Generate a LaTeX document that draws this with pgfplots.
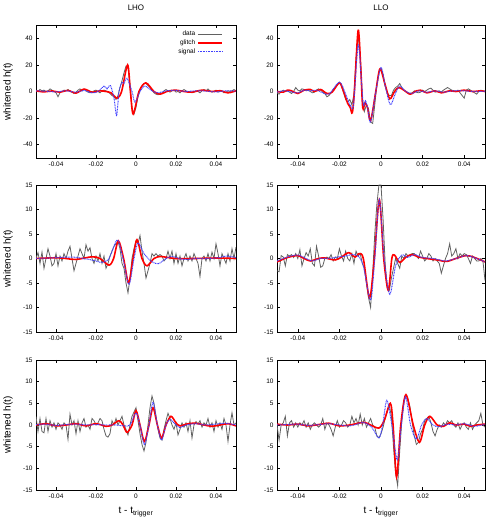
\documentclass[border=0pt]{standalone}
\usepackage{fontspec}
\setmainfont{Liberation Sans}
\usepackage{pgfplots}
\pgfplotsset{compat=1.18}

\definecolor{datagray}{rgb}{0.38,0.38,0.38}
\definecolor{glitchred}{rgb}{1,0,0}
\definecolor{sigblue}{rgb}{0.25,0.25,1}

\pgfplotsset{
  panel/.style={
    scale only axis,
    xmin=-0.05, xmax=0.05,
    xtick={-0.04,-0.02,0,0.02,0.04},
    xticklabels={-0.04,-0.02,0,0.02,0.04},
    scaled x ticks=false,
    tick align=inside,
    major tick length=3bp,
    axis line style={line width=0.8pt},
    every tick/.style={black,line width=0.6pt},
    tick label style={font=\fontsize{6.5}{7}\selectfont},
    label style={font=\fontsize{7}{8}\selectfont},
    title style={font=\fontsize{8}{9}\selectfont,at={(0.5,1)},anchor=south,yshift=5bp},
    every axis y label/.style={at={(axis description cs:-0.14,0.5)},rotate=90,anchor=center},
    every axis x label/.style={at={(axis description cs:0.5,-0.17)},anchor=center},
  },
  bigy/.style={ymin=-50,ymax=50,ytick={-40,-20,0,20,40},yticklabels={-40,-20,0,20,40}},
  smally/.style={ymin=-15,ymax=15,ytick={-15,-10,-5,0,5,10,15},yticklabels={-15,-10,-5,0,5,10,15}},
  datal/.style={color=datagray,line width=0.8pt,no markers},
  glitchl/.style={color=glitchred,line width=1.6pt,smooth,no markers},
  sigl/.style={color=sigblue,line width=1pt,dash pattern=on 0.9pt off 0.7pt,smooth,no markers},
}

\begin{document}
\begin{tikzpicture}
\useasboundingbox (0,0) rectangle (500bp,525bp);

% ---------------- row 1, LHO
\begin{axis}[panel,bigy,at={(36bp,500bp)},anchor=north west,width=200bp,height=133bp,
  title={LHO},ylabel={whitened h(t)},
  legend style={draw=none,fill=none,at={(0.95,0.985)},anchor=north east,
    font=\fontsize{6.5}{7}\selectfont,row sep=-1.5bp},
  legend cell align=right,legend plot pos=right,
  legend image code/.code={\draw[#1] (0bp,0bp) -- (24bp,0bp);}]
\addplot[datal] coordinates {
(-0.050,1) (-0.049,0) (-0.048,1.5) (-0.047,0.5) (-0.046,1) (-0.045,0) (-0.044,0.5) (-0.043,2) (-0.042,1) (-0.041,0)
(-0.040,-1) (-0.039,-4) (-0.038,-1) (-0.037,0) (-0.036,1) (-0.035,0.5) (-0.034,1.5) (-0.033,0) (-0.032,-0.5) (-0.031,-1.5)
(-0.030,-0.5) (-0.029,1) (-0.028,2) (-0.027,0.5) (-0.026,2) (-0.025,0.5) (-0.024,-0.5) (-0.023,-1) (-0.022,-0.5) (-0.021,0.5)
(-0.020,1) (-0.019,0) (-0.018,-1) (-0.017,0.5) (-0.016,1) (-0.015,0.5) (-0.014,-0.5) (-0.013,-1.5) (-0.012,-3) (-0.011,-4)
(-0.010,-6) (-0.009,-3) (-0.008,3) (-0.007,8) (-0.006,14) (-0.005,19) (-0.004,18) (-0.003,5) (-0.002,-12) (-0.001,-17)
(0.000,-12) (0.001,-4) (0.002,1) (0.003,4) (0.004,6) (0.005,6) (0.006,4.5) (0.007,3) (0.008,1) (0.009,-1)
(0.010,-2) (0.011,-2.5) (0.012,-2) (0.013,-1) (0.014,0.5) (0.015,1.5) (0.016,0.5) (0.017,-0.5) (0.018,0.5) (0.019,1)
(0.020,-0.5) (0.021,0) (0.022,-1) (0.023,0.5) (0.024,1.5) (0.025,0.5) (0.026,-0.5) (0.027,0) (0.028,-1) (0.029,-0.5)
(0.030,0.5) (0.031,0) (0.032,-1) (0.033,0.5) (0.034,1.5) (0.035,0.5) (0.036,2) (0.037,0.5) (0.038,-0.5) (0.039,0)
(0.040,1) (0.041,-0.5) (0.042,0) (0.043,0.5) (0.044,-1) (0.045,-0.5) (0.046,0.5) (0.047,0) (0.048,0.5) (0.049,1.5) (0.050,0.5)};
\addlegendentry{data}
\addplot[glitchl] coordinates {
(-0.05,0.5) (-0.046,-0.3) (-0.042,0.4) (-0.038,-0.5) (-0.034,0.8) (-0.030,-1.2) (-0.026,1.8) (-0.022,-0.5)
(-0.018,0.5) (-0.015,0) (-0.0125,-1) (-0.0095,-5) (-0.0072,0) (-0.0042,20) (-0.0028,0) (-0.0014,-17)
(0.0015,0) (0.0049,6.5) (0.009,0) (0.012,-2) (0.016,0.3) (0.020,1) (0.024,0) (0.028,-0.5) (0.033,1)
(0.038,0) (0.042,0.6) (0.046,-1) (0.05,0.5)};
\addlegendentry{glitch}
\addplot[sigl] coordinates {
(-0.05,0.5) (-0.045,0.2) (-0.04,-0.3) (-0.035,0.5) (-0.03,-0.5) (-0.026,0.8) (-0.022,-1) (-0.019,0)
(-0.016,4) (-0.0145,2) (-0.0128,4.5) (-0.011,-5) (-0.0097,-18) (-0.0085,0) (-0.007,7) (-0.006,6)
(-0.0045,10) (-0.002,0) (-0.0005,-8) (0.002,0) (0.0045,4) (0.008,0.5) (0.011,-1) (0.015,0.5) (0.02,0.8)
(0.025,0) (0.03,0.5) (0.035,0.3) (0.04,-0.3) (0.045,0.5) (0.05,0.3)};
\addlegendentry{signal}
\end{axis}

% ---------------- row 1, LLO
\begin{axis}[panel,bigy,at={(277bp,500bp)},anchor=north west,width=208bp,height=133bp,title={LLO}]
\addplot[datal] coordinates {
(-0.050,-1) (-0.049,-2) (-0.048,0) (-0.047,1) (-0.046,0) (-0.045,0.5) (-0.044,-0.5) (-0.043,-1.5) (-0.042,0) (-0.041,3)
(-0.040,1) (-0.039,0.5) (-0.038,2) (-0.037,1.5) (-0.036,0.5) (-0.035,1) (-0.034,0) (-0.033,-1) (-0.032,-0.5) (-0.031,1)
(-0.030,2) (-0.029,1) (-0.028,-0.5) (-0.027,-1.5) (-0.026,-4) (-0.025,-3) (-0.024,-1) (-0.023,1) (-0.022,3) (-0.021,5)
(-0.020,7) (-0.019,4) (-0.018,-1) (-0.017,-6) (-0.016,-8) (-0.015,-6) (-0.014,-10) (-0.013,-2) (-0.012,25) (-0.011,42)
(-0.010,28) (-0.009,-5) (-0.008,-15) (-0.007,-10) (-0.006,-13) (-0.005,-23) (-0.004,-24) (-0.003,-10) (-0.002,5) (-0.001,14)
(0.000,17) (0.001,13) (0.002,4) (0.003,-1) (0.004,-3) (0.005,-3) (0.006,1) (0.007,3) (0.008,4) (0.009,6)
(0.010,3) (0.011,1) (0.012,0) (0.013,-1) (0.014,-1.5) (0.015,-1) (0.016,0.5) (0.017,-0.5) (0.018,-1) (0.019,-0.5)
(0.020,1) (0.021,0) (0.022,1) (0.023,2) (0.024,2.5) (0.025,1) (0.026,-0.5) (0.027,0) (0.028,0.5) (0.029,-0.5)
(0.030,1) (0.031,2) (0.032,3) (0.033,2) (0.034,1) (0.035,0.5) (0.036,0) (0.037,1) (0.038,-1) (0.039,-3)
(0.040,-5) (0.041,1) (0.042,2) (0.043,1) (0.044,0) (0.045,-1) (0.046,-2) (0.047,0) (0.048,1) (0.049,0.5) (0.050,0)};
\addplot[glitchl] coordinates {
(-0.05,0) (-0.047,-0.5) (-0.045,1) (-0.043,0.5) (-0.04,-1.5) (-0.037,1) (-0.034,1.5) (-0.032,0) (-0.029,1.5)
(-0.026,-1.5) (-0.0235,-0.5) (-0.02,6.5) (-0.018,0) (-0.016,-9) (-0.0148,-12) (-0.0138,-16) (-0.0128,0)
(-0.011,46) (-0.0098,20) (-0.0088,-12) (-0.0077,-8.5) (-0.0065,-12) (-0.005,-22) (-0.0025,0) (-0.0005,17)
(0.002,5) (0.0042,-5.5) (0.0065,0) (0.0085,3) (0.011,1) (0.014,-2) (0.017,0.5) (0.019,1) (0.022,-1)
(0.026,0.5) (0.029,-1) (0.033,0.5) (0.036,0) (0.040,1) (0.044,0) (0.048,0.5) (0.05,0)};
\addplot[sigl] coordinates {
(-0.05,-0.5) (-0.047,0.5) (-0.044,0) (-0.04,-1) (-0.037,1) (-0.034,0.5) (-0.031,1) (-0.028,-1) (-0.025,-2)
(-0.02,7) (-0.017,-2) (-0.0155,-8) (-0.0145,-11) (-0.0132,-10) (-0.011,35) (-0.0095,10) (-0.0085,-10)
(-0.0075,-7) (-0.0065,-12) (-0.005,-23) (-0.0025,0) (0,18) (0.0022,3) (0.0045,-10) (0.0068,-2) (0.009,4)
(0.012,0) (0.015,-1.5) (0.018,0.5) (0.022,-0.5) (0.026,0.5) (0.03,-0.5) (0.035,0.5) (0.04,0.5) (0.045,0) (0.05,0.2)};
\end{axis}

% ---------------- row 2, LHO
\begin{axis}[panel,smally,at={(36bp,340bp)},anchor=north west,width=200bp,height=147bp,ylabel={whitened h(t)}]
\addplot[datal] coordinates {
(-0.050,0) (-0.049,1.2) (-0.048,-1) (-0.047,1.3) (-0.046,-2) (-0.045,0) (-0.044,2) (-0.043,0.5) (-0.042,-1.5) (-0.041,-1)
(-0.040,1) (-0.039,-1.5) (-0.038,0.5) (-0.037,-0.5) (-0.036,1) (-0.035,0) (-0.034,1.5) (-0.033,2.5) (-0.032,0) (-0.031,-2.5)
(-0.030,-1) (-0.029,0.5) (-0.028,2) (-0.027,1) (-0.026,0) (-0.025,2.8) (-0.024,1.5) (-0.023,2.2) (-0.022,0) (-0.021,-1)
(-0.020,0.5) (-0.019,-0.5) (-0.018,1) (-0.017,-1) (-0.016,0.5) (-0.015,-2) (-0.014,-1) (-0.013,0.5) (-0.012,1.5) (-0.011,2.5)
(-0.010,3) (-0.009,3.5) (-0.008,2) (-0.007,-1) (-0.006,-2) (-0.005,-5) (-0.004,-7) (-0.003,-4) (-0.002,0) (-0.001,2)
(0.000,3.5) (0.001,3) (0.002,4.7) (0.003,1.5) (0.004,-1) (0.005,-4) (0.006,-2.5) (0.007,-1) (0.008,1) (0.009,0.5)
(0.010,1) (0.011,0.5) (0.012,0.8) (0.013,0.5) (0.014,-0.5) (0.015,0) (0.016,1.5) (0.017,0) (0.018,1.5) (0.019,-1)
(0.020,1) (0.021,-1) (0.022,0.5) (0.023,-1.5) (0.024,0) (0.025,1) (0.026,-0.5) (0.027,0.5) (0.028,-0.5) (0.029,1)
(0.030,0) (0.031,-1) (0.032,-3.7) (0.033,0) (0.034,0.5) (0.035,-0.5) (0.036,1) (0.037,-0.5) (0.038,1.3) (0.039,0)
(0.040,3) (0.041,1) (0.042,-1.5) (0.043,1) (0.044,0) (0.045,-1) (0.046,1) (0.047,-0.5) (0.048,2) (0.049,0) (0.050,2.3)};
\addplot[glitchl] coordinates {
(-0.05,0) (-0.04,0.15) (-0.035,0) (-0.03,-0.2) (-0.022,0.35) (-0.018,0) (-0.0135,-1.35) (-0.0112,0)
(-0.0088,3.6) (-0.0062,0) (-0.0037,-5) (-0.0015,0) (0.0005,3.85) (0.003,0) (0.0055,-1.5) (0.009,0)
(0.012,0.4) (0.016,0.2) (0.02,0) (0.03,0) (0.04,0.1) (0.05,0)};
\addplot[sigl] coordinates {
(-0.05,0) (-0.044,0.1) (-0.038,0.2) (-0.032,0.3) (-0.026,0) (-0.02,-0.5) (-0.017,-0.8) (-0.0135,0)
(-0.0093,3.8) (-0.0065,0) (-0.0035,-5.3) (-0.001,0) (0.001,3.2) (0.004,1) (0.0075,-0.5) (0.011,-1.1)
(0.015,0) (0.018,0.4) (0.024,-0.2) (0.03,0) (0.036,0) (0.042,0.2) (0.045,0.5) (0.05,0.2)};
\end{axis}

% ---------------- row 2, LLO
\begin{axis}[panel,smally,at={(277bp,340bp)},anchor=north west,width=208bp,height=147bp]
\addplot[datal] coordinates {
(-0.050,-2.5) (-0.049,-2.7) (-0.048,0.6) (-0.047,0.3) (-0.046,-1.5) (-0.045,0.8) (-0.044,0.5) (-0.043,0.8) (-0.042,0.2) (-0.041,1)
(-0.040,0) (-0.039,1.8) (-0.038,-1.5) (-0.037,0) (-0.036,1.2) (-0.035,0.5) (-0.034,2) (-0.033,-1) (-0.032,-1.5) (-0.031,2.5)
(-0.030,0.5) (-0.029,-1.8) (-0.028,-1.5) (-0.027,0) (-0.026,0.3) (-0.025,0) (-0.024,0.8) (-0.023,-0.5) (-0.022,0.3) (-0.021,0)
(-0.020,2) (-0.019,0.5) (-0.018,-0.5) (-0.017,1.5) (-0.016,0) (-0.015,-0.5) (-0.014,1) (-0.013,-1) (-0.012,1.5) (-0.011,0.5)
(-0.010,1) (-0.009,-1) (-0.008,-2) (-0.007,-5) (-0.006,-8) (-0.005,-10) (-0.004,-3) (-0.003,5) (-0.002,11) (-0.001,15)
(0.000,15) (0.001,8) (0.002,-1) (0.003,-6) (0.004,-6.5) (0.005,-4) (0.006,-2) (0.007,0) (0.008,-1) (0.009,-2)
(0.010,0.5) (0.011,0) (0.012,1) (0.013,0.5) (0.014,0.8) (0.015,1) (0.016,1) (0.017,0.5) (0.018,0) (0.019,1.5)
(0.020,0.5) (0.021,-0.5) (0.022,0) (0.023,1) (0.024,0.5) (0.025,-0.5) (0.026,0) (0.027,-0.5) (0.028,-1) (0.029,-3)
(0.030,-1.5) (0.031,0) (0.032,1) (0.033,3) (0.034,0.5) (0.035,1) (0.036,2) (0.037,0) (0.038,1) (0.039,0.5)
(0.040,1) (0.041,0.8) (0.042,0) (0.043,-1) (0.044,0.5) (0.045,0) (0.046,-0.5) (0.047,-0.5) (0.048,0) (0.049,-0.5) (0.050,-4.5)};
\addplot[glitchl] coordinates {
(-0.05,-0.7) (-0.045,0.2) (-0.04,0.6) (-0.037,0) (-0.034,-0.5) (-0.03,0) (-0.027,0.1) (-0.022,-0.3)
(-0.019,0.3) (-0.0155,1.2) (-0.0125,0.3) (-0.0105,1) (-0.0085,0) (-0.0055,-8) (-0.0032,0) (-0.0008,12)
(0.0013,0) (0.0035,-6.5) (0.0052,0) (0.0065,0.7) (0.009,-0.8) (0.012,0.3) (0.015,0.8) (0.018,0.3)
(0.022,0) (0.027,-0.3) (0.0315,-0.6) (0.036,0) (0.041,0.6) (0.045,0.2) (0.05,-0.7)};
\addplot[sigl] coordinates {
(-0.05,-0.5) (-0.045,0.3) (-0.04,0.7) (-0.036,0) (-0.033,-0.5) (-0.029,0) (-0.025,0) (-0.021,0.3)
(-0.017,0.5) (-0.014,0.8) (-0.011,0.5) (-0.0085,-1.5) (-0.005,-8.5) (-0.003,0) (-0.0008,12) (0.0015,0)
(0.0042,-7.3) (0.007,-1.5) (0.01,0.7) (0.013,0.2) (0.016,0.8) (0.02,0.2) (0.025,0) (0.031,-0.5)
(0.036,0) (0.041,0.6) (0.046,0) (0.05,-0.7)};
\end{axis}

% ---------------- row 3, LHO
\begin{axis}[panel,smally,at={(36bp,165bp)},anchor=north west,width=200bp,height=130bp,
  ylabel={whitened h(t)},xlabel={t - t\textsubscript{trigger}}]
\addplot[datal] coordinates {
(-0.050,2) (-0.049,-1.5) (-0.048,1.5) (-0.047,-1.5) (-0.046,-1.8) (-0.045,1.5) (-0.044,-1.5) (-0.043,1) (-0.042,-0.5) (-0.041,0.5)
(-0.040,-1) (-0.039,0.5) (-0.038,0) (-0.037,-1) (-0.036,0.5) (-0.035,0) (-0.034,-3.3) (-0.033,2.5) (-0.032,0) (-0.031,1)
(-0.030,-2) (-0.029,1) (-0.028,-1.5) (-0.027,0.5) (-0.026,1.5) (-0.025,-0.5) (-0.024,0) (-0.023,-1) (-0.022,1.5) (-0.021,1)
(-0.020,0) (-0.019,0.5) (-0.018,1.5) (-0.017,1) (-0.016,-1) (-0.015,-2.5) (-0.014,-2.8) (-0.013,-2) (-0.012,1) (-0.011,0)
(-0.010,1.5) (-0.009,0) (-0.008,1) (-0.007,2) (-0.006,0) (-0.005,-1) (-0.004,-2.3) (-0.003,0) (-0.002,2) (-0.001,3)
(0.000,4) (0.001,1) (0.002,-2) (0.003,-4.5) (0.004,-6) (0.005,-4) (0.006,0) (0.007,4) (0.008,6.7) (0.009,5)
(0.010,2) (0.011,-1) (0.012,-3) (0.013,-3.5) (0.014,-1) (0.015,1) (0.016,2.7) (0.017,1.5) (0.018,0) (0.019,-1)
(0.020,0.5) (0.021,-2.3) (0.022,-1) (0.023,0.5) (0.024,-0.5) (0.025,0.5) (0.026,-1.5) (0.027,1) (0.028,-3) (0.029,0)
(0.030,0.8) (0.031,0.2) (0.032,1) (0.033,-0.5) (0.034,0.5) (0.035,0) (0.036,1.5) (0.037,-0.5) (0.038,0.5) (0.039,-1.5)
(0.040,1) (0.041,-0.5) (0.042,0.5) (0.043,-1) (0.044,1.5) (0.045,0) (0.046,-3.8) (0.047,0) (0.048,2.8) (0.049,0) (0.050,0.5)};
\addplot[glitchl] coordinates {
(-0.05,0) (-0.045,0.3) (-0.04,-0.2) (-0.035,0) (-0.03,0.3) (-0.025,-0.2) (-0.02,0.3) (-0.015,-0.3)
(-0.012,0) (-0.0085,1) (-0.0065,0) (-0.0045,-1.7) (-0.002,0) (0,3.3) (0.002,0) (0.0042,-3.8)
(0.0065,0) (0.0085,4) (0.0107,0) (0.0128,-3) (0.015,0) (0.0175,2) (0.02,0.5) (0.022,-0.2)
(0.026,0.3) (0.03,0.4) (0.034,0) (0.038,-0.3) (0.042,0) (0.046,0.3) (0.05,-0.2)};
\addplot[sigl] coordinates {
(-0.05,0.1) (-0.045,0.2) (-0.04,-0.1) (-0.035,0.1) (-0.03,0.2) (-0.025,0) (-0.02,0.1) (-0.015,0)
(-0.01,0) (-0.006,-0.2) (-0.003,0) (0,2.8) (0.002,0) (0.0042,-4.5) (0.0065,0) (0.0085,5.2)
(0.0107,0) (0.0128,-3.5) (0.015,0) (0.017,1.3) (0.02,0) (0.022,-0.6) (0.025,0) (0.03,0.3)
(0.035,0) (0.04,0.2) (0.045,0.4) (0.05,0)};
\end{axis}

% ---------------- row 3, LLO
\begin{axis}[panel,smally,at={(277bp,165bp)},anchor=north west,width=208bp,height=130bp,
  xlabel={t - t\textsubscript{trigger}}]
\addplot[datal] coordinates {
(-0.050,0) (-0.049,-3.5) (-0.048,0) (-0.047,0.5) (-0.046,2) (-0.045,-2.5) (-0.044,0.5) (-0.043,1) (-0.042,-0.5) (-0.041,0.5)
(-0.040,-0.5) (-0.039,0.5) (-0.038,0) (-0.037,1) (-0.036,-0.5) (-0.035,0.5) (-0.034,-1) (-0.033,0) (-0.032,0.5) (-0.031,0)
(-0.030,-0.5) (-0.029,0) (-0.028,1.5) (-0.027,-1) (-0.026,0.5) (-0.025,0) (-0.024,-1) (-0.023,-2.5) (-0.022,-0.5) (-0.021,1)
(-0.020,-0.5) (-0.019,0) (-0.018,1) (-0.017,0.5) (-0.016,-0.5) (-0.015,0) (-0.014,2) (-0.013,0.5) (-0.012,1.5) (-0.011,0)
(-0.010,2.5) (-0.009,0) (-0.008,1.5) (-0.007,-0.5) (-0.006,0.5) (-0.005,1.5) (-0.004,0) (-0.003,-0.5) (-0.002,-2.5) (-0.001,-3)
(0.000,-2) (0.001,-0.5) (0.002,1.5) (0.003,3) (0.004,4.5) (0.005,2) (0.006,-5) (0.007,-11) (0.008,-14) (0.009,-6)
(0.010,1) (0.011,5.5) (0.012,6.8) (0.013,6) (0.014,4) (0.015,0.5) (0.016,-2.5) (0.017,-4.5) (0.018,-4) (0.019,-2)
(0.020,-1) (0.021,1) (0.022,1.5) (0.023,2) (0.024,0.5) (0.025,-1.5) (0.026,-2.5) (0.027,-1) (0.028,0) (0.029,-0.5)
(0.030,0.5) (0.031,0) (0.032,1) (0.033,0.5) (0.034,1) (0.035,0) (0.036,-0.5) (0.037,0.5) (0.038,-1) (0.039,0)
(0.040,0.5) (0.041,-0.5) (0.042,-1) (0.043,0.5) (0.044,-1) (0.045,0) (0.046,0.5) (0.047,1) (0.048,2.7) (0.049,0) (0.050,-0.5)};
\addplot[glitchl] coordinates {
(-0.05,0.2) (-0.045,0) (-0.04,0.2) (-0.035,-0.2) (-0.03,0.1) (-0.025,0.4) (-0.02,-0.2) (-0.015,0)
(-0.012,0.3) (-0.008,0.6) (-0.005,0) (-0.001,-0.7) (0.0015,1) (0.0045,5) (0.0058,0) (0.0075,-12)
(0.0095,0) (0.012,7) (0.0155,0) (0.0185,-4) (0.021,0) (0.0235,2) (0.027,0) (0.03,-0.3) (0.033,0.5)
(0.036,0) (0.04,0.2) (0.043,-0.3) (0.046,0) (0.05,0.2)};
\addplot[sigl] coordinates {
(-0.05,0) (-0.045,0.1) (-0.04,0.2) (-0.035,-0.1) (-0.03,0.1) (-0.025,0.3) (-0.02,0) (-0.015,-0.2)
(-0.0115,0.2) (-0.0085,0.6) (-0.0045,-0.5) (-0.001,-3) (0.0008,0) (0.0028,5.7) (0.0052,0) (0.0078,-8)
(0.0098,0) (0.0118,6.5) (0.0142,0) (0.017,-3.3) (0.0195,0) (0.022,1.5) (0.025,0) (0.028,-0.4)
(0.032,0.2) (0.036,0) (0.04,0.3) (0.045,-0.3) (0.05,0.2)};
\end{axis}
\end{tikzpicture}
\end{document}
